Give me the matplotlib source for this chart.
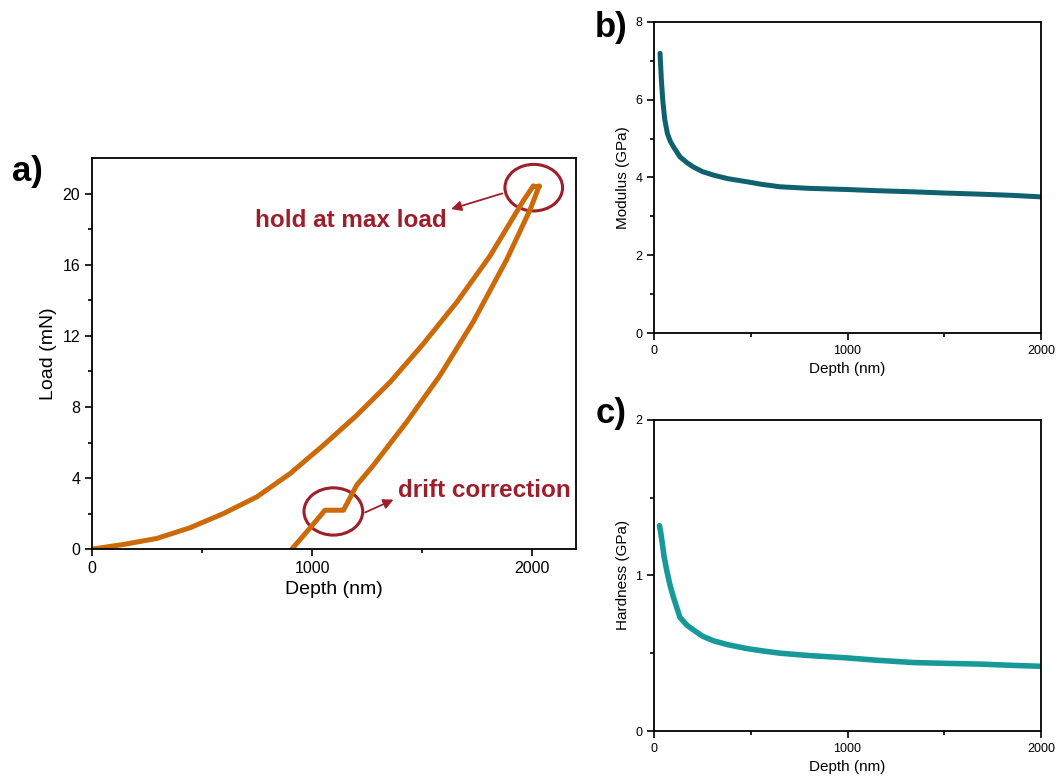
import matplotlib.pyplot as plt
from matplotlib.patches import Ellipse
import numpy as np

plt.rcParams['font.family'] = ['Liberation Sans', 'DejaVu Sans']

# load-depth curve (loading, hold, unloading with drift plateau)
load_depth = [0, 142, 294, 445, 597, 749, 900, 1051, 1203, 1355, 1506, 1658, 1809, 1960, 2006]
load_val = [0, 0.26, 0.6, 1.2, 2.0, 2.94, 4.25, 5.84, 7.53, 9.4, 11.56, 13.9, 16.5, 19.6, 20.45]
hold_depth = [2006, 2033]
hold_val = [20.45, 20.45]
unload_depth = [2033, 1991, 1885, 1733, 1582, 1430, 1279, 1203, 1143, 1059, 976, 908]
unload_val = [20.45, 19.1, 16.3, 12.8, 9.78, 7.15, 4.72, 3.6, 2.19, 2.19, 0.97, 0]

# modulus vs depth
mod_depth = [31, 38, 45, 55, 69, 84, 100, 134, 170, 203, 250, 307, 380, 479, 560, 652, 800, 997, 1150, 1341, 1500, 1686, 1850, 2000]
mod_val = [7.19, 6.5, 5.99, 5.5, 5.13, 4.93, 4.79, 4.53, 4.38, 4.27, 4.15, 4.06, 3.97, 3.89, 3.82, 3.76, 3.72, 3.69, 3.66, 3.63, 3.60, 3.57, 3.54, 3.50]

# hardness vs depth
hard_depth = [28, 34, 40, 52, 66, 82, 100, 134, 170, 203, 250, 307, 380, 479, 560, 652, 800, 997, 1150, 1341, 1500, 1686, 1850, 2000]
hard_val = [1.32, 1.28, 1.23, 1.12, 1.03, 0.94, 0.86, 0.73, 0.68, 0.65, 0.61, 0.58, 0.555, 0.53, 0.515, 0.50, 0.485, 0.47, 0.455, 0.44, 0.435, 0.43, 0.422, 0.416]

orange = '#CC6A0A'
maroon = '#9E1F2C'
teal_dark = '#0F6170'
teal = '#17999A'

fig = plt.figure(figsize=(10.59, 7.8), dpi=100)
ax_a = fig.add_axes([0.0869, 0.296, 0.457, 0.501])
ax_b = fig.add_axes([0.6176, 0.573, 0.3654, 0.399])
ax_c = fig.add_axes([0.6176, 0.0628, 0.3654, 0.399])


def style_axis(ax, tick_size, label_size):
    for s in ax.spines.values():
        s.set_linewidth(1.3)
    ax.tick_params(which='both', direction='out', top=False, right=False,
                   labelsize=tick_size, width=1.2)
    ax.tick_params(which='major', length=5)
    ax.tick_params(which='minor', length=3)
    ax.xaxis.label.set_size(label_size)
    ax.yaxis.label.set_size(label_size)


# a) load-depth
for xs, ys in [(load_depth, load_val), (hold_depth, hold_val), (unload_depth, unload_val)]:
    ax_a.plot(xs, ys, color=orange, lw=3.6, solid_capstyle='round', solid_joinstyle='round')
ax_a.set_xlim(0, 2200)
ax_a.set_ylim(0, 22)
ax_a.set_xticks([0, 1000, 2000])
ax_a.set_xticks([500, 1500], minor=True)
ax_a.set_yticks([0, 4, 8, 12, 16, 20])
ax_a.set_yticks([2, 6, 10, 14, 18], minor=True)
ax_a.set_xlabel('Depth (nm)')
ax_a.set_ylabel('Load (mN)')
style_axis(ax_a, 11.5, 14)

ax_a.add_patch(Ellipse((2008, 20.35), 262, 2.62, fill=False, ec=maroon, lw=2.2))
ax_a.add_patch(Ellipse((1097, 2.12), 267, 2.66, fill=False, ec=maroon, lw=2.2))
ax_a.annotate('', xy=(1620, 19.1), xytext=(1877, 20.07),
              arrowprops=dict(arrowstyle='-|>', color=maroon, lw=1.3, mutation_scale=15))
ax_a.annotate('', xy=(1382, 2.85), xytext=(1230, 2.0),
              arrowprops=dict(arrowstyle='-|>', color=maroon, lw=1.3, mutation_scale=15))
ax_a.text(1612, 18.5, 'hold at max load', color=maroon, fontsize=17.5,
          fontweight='bold', ha='right', va='center')
ax_a.text(1390, 3.3, 'drift correction', color=maroon, fontsize=17.5,
          fontweight='bold', ha='left', va='center')

# b) modulus
ax_b.plot(mod_depth, mod_val, color=teal_dark, lw=3.6, solid_capstyle='round')
ax_b.set_xlim(0, 2000)
ax_b.set_ylim(0, 8)
ax_b.set_xticks([0, 1000, 2000])
ax_b.set_xticks([500, 1500], minor=True)
ax_b.set_yticks([0, 2, 4, 6, 8])
ax_b.set_yticks([1, 3, 5, 7], minor=True)
ax_b.set_xlabel('Depth (nm)')
ax_b.set_ylabel('Modulus (GPa)')
style_axis(ax_b, 9, 11)

# c) hardness
ax_c.plot(hard_depth, hard_val, color=teal, lw=4, solid_capstyle='round')
ax_c.set_xlim(0, 2000)
ax_c.set_ylim(0, 2)
ax_c.set_xticks([0, 1000, 2000])
ax_c.set_xticks([500, 1500], minor=True)
ax_c.set_yticks([0, 1, 2])
ax_c.set_yticks([0.5, 1.5], minor=True)
ax_c.set_xlabel('Depth (nm)')
ax_c.set_ylabel('Hardness (GPa)')
style_axis(ax_c, 9, 11)

fig.text(27 / 1059, 1 - 172 / 780, 'a)', fontsize=25, fontweight='bold', ha='center', va='center')
fig.text(611 / 1059, 1 - 28 / 780, 'b)', fontsize=25, fontweight='bold', ha='center', va='center')
fig.text(611 / 1059, 1 - 413 / 780, 'c)', fontsize=25, fontweight='bold', ha='center', va='center')

fig.savefig('out.png', dpi=100)
